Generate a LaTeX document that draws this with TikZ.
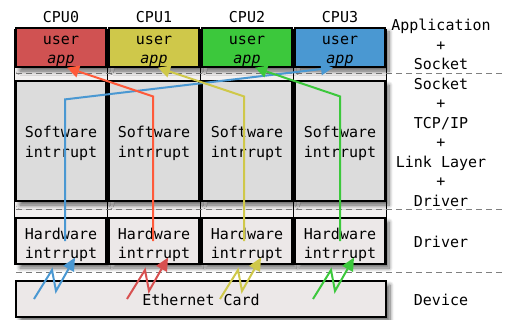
\documentclass[tikz,border=0pt]{standalone}
\usepackage{fontspec}
\setmonofont{DejaVu Sans Mono}
\usetikzlibrary{positioning,arrows.meta,shadows.blur}

\definecolor{appred}{HTML}{D05252}
\definecolor{appyellow}{HTML}{CFC84A}
\definecolor{appgreen}{HTML}{3CC83C}
\definecolor{appblue}{HTML}{4A98D2}
\definecolor{flowred}{HTML}{FF5A3A}
\definecolor{sparkred}{HTML}{D85050}
\definecolor{swgray}{HTML}{DCDCDC}
\definecolor{hwgray}{HTML}{ECE8E8}
\definecolor{colgray}{HTML}{F2F0F0}

\begin{document}
\begin{tikzpicture}[x=1pt,y=-1pt,
    font=\ttfamily\fontsize{15}{19.5}\selectfont,
    box/.style={draw,line width=1.2pt,minimum width=90pt,inner sep=0pt,align=center,text height=36pt,
      blur shadow={shadow xshift=4pt,shadow yshift=-4pt,shadow blur radius=4pt,shadow blur steps=8,shadow opacity=60}},
    appbox/.style={box,minimum height=37pt},
    swbox/.style={box,fill=swgray,minimum height=120pt},
    hwbox/.style={box,fill=hwgray,minimum height=46pt,text height=39pt},
    layer/.style={dash pattern=on 6pt off 4pt,gray,line width=1pt},
    flow/.style={line width=2pt,-{Triangle[length=12pt,width=12pt]}},
    spark/.style={line width=2pt,-{Triangle[length=13pt,width=12pt]}}]
  \useasboundingbox (0,0) rectangle (505,320);

  % one column per cpu
  \foreach \i in {0,...,3}
    \draw[fill=colgray,line width=.6pt] ({14.5+93*\i},29) rectangle ++(93,235);

  % layer separators
  \foreach \y in {74,209,272}
    \draw[layer] (16,\y) -- (505,\y);

  \foreach \i/\c in {0/appred,1/appyellow,2/appgreen,3/appblue} {
    \node[appbox,fill=\c] (app\i) at ({61+93*\i},47.5) {user\\\textit{app}};
    \node[above=1pt of app\i] (cpu\i) {CPU\i};
    \node[swbox] (sw\i) at ({61+93*\i},141) {Software\\intrrupt};
    \node[hwbox] (hw\i) at ({61+93*\i},241) {Hardware\\intrrupt};
  }
  \node[box,fill=hwgray,minimum width=370pt,minimum height=36pt,text height=13pt] (eth) at (201,299) {Ethernet Card};

  % layer names
  \node[align=center] (lblapp) at (441,44.5) {Application\\+\\Socket};
  \node[align=center] (lblstack) at (441,142) {Socket\\+\\TCP/IP\\+\\Link Layer\\+\\Driver};
  \node (lbldrv) at (441,242) {Driver};
  \node (lbldev) at (441,300) {Device};

  % packets handed up to the app on another cpu
  \draw[flow,appblue] ([xshift=4pt]hw0.center) -- ([xshift=4pt,yshift=-19pt]sw0.north) -- ([xshift=-7pt]app3.south);
  \draw[flow,flowred] ([xshift=-1pt]hw1.center) -- ([xshift=-1pt,yshift=-16pt]sw1.north) -- ([xshift=6pt]app0.south);
  \draw[flow,appyellow] ([xshift=-3pt]hw2.center) -- ([xshift=-3pt,yshift=-16pt]sw2.north) -- ([xshift=4pt]app1.south);
  \draw[flow,appgreen] (hw3.center) -- ([yshift=-16pt]sw3.north) -- ([xshift=8pt]app2.south);

  % interrupts from the card
  \foreach \i/\c in {0/appblue,1/sparkred,2/appyellow,3/appgreen} {
    \coordinate (spark\i) at ([xshift=-27pt]hw\i.south |- eth.center);
    \draw[spark,\c] (spark\i) -- ++(18,-29) -- ++(4,21) -- ([xshift=14pt,yshift=7pt]hw\i.south);
  }
\end{tikzpicture}
\end{document}
